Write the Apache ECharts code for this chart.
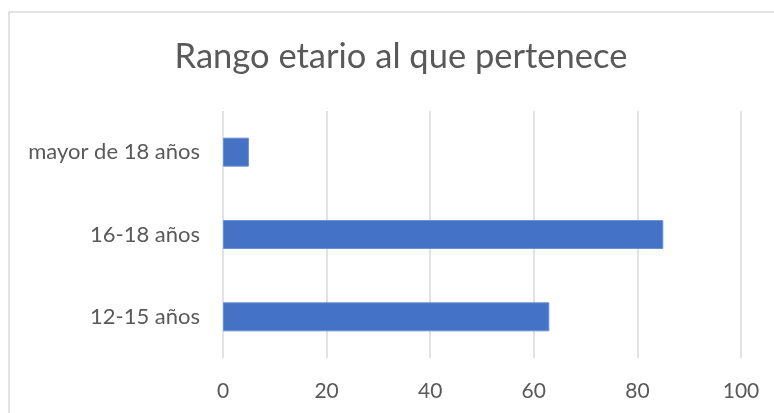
<!DOCTYPE html>
<html>
<head>
<meta charset="utf-8">
<script src="https://cdn.jsdelivr.net/npm/echarts@6/dist/echarts.min.js"></script>
<style>
html,body{margin:0;padding:0;background:#fff;}
#chart{width:774px;height:413px;}
</style>
</head>
<body>
<div id="chart"></div>
<script>
const titleText = "Rango etario al que pertenece";
const categories = ["12-15 años", "16-18 años", "mayor de 18 años"];
const values = [63, 85, 5];
const xTicks = [0, 20, 40, 60, 80, 100];

const FONT = "Lato";
const chart = echarts.init(document.getElementById('chart'), null, {renderer: 'canvas'});
chart.setOption({
  animation: false,
  backgroundColor: '#ffffff',
  graphic: [{
    type: 'rect',
    shape: {x: 9, y: 12, width: 900, height: 500},
    style: {fill: 'none', stroke: '#d9d9d9', lineWidth: 1.5},
    silent: true, z: -1
  }],
  title: {
    text: titleText,
    left: 396, top: 34,
    textAlign: 'center',
    textStyle: {fontFamily: FONT, fontSize: 34.5, fontWeight: 'normal', color: '#595959'}
  },
  grid: {left: 223, right: 33, top: 111, bottom: 55, containLabel: false},
  xAxis: {
    type: 'value', min: xTicks[0], max: xTicks[xTicks.length - 1], interval: 20,
    axisLine: {show: false}, axisTick: {show: false},
    splitLine: {show: true, lineStyle: {color: '#d9d9d9', width: 1.5}},
    axisLabel: {fontFamily: FONT, fontSize: 21, color: '#595959', margin: 23}
  },
  yAxis: {
    type: 'category', data: categories,
    axisLine: {show: false}, axisTick: {show: false},
    axisLabel: {fontFamily: FONT, fontSize: 22, color: '#595959', margin: 23}
  },
  series: [{
    type: 'bar', data: values, barWidth: 29,
    itemStyle: {color: '#4472c4', borderColor: '#6b8fd4', borderWidth: 1}
  }]
});
</script>
</body>
</html>
